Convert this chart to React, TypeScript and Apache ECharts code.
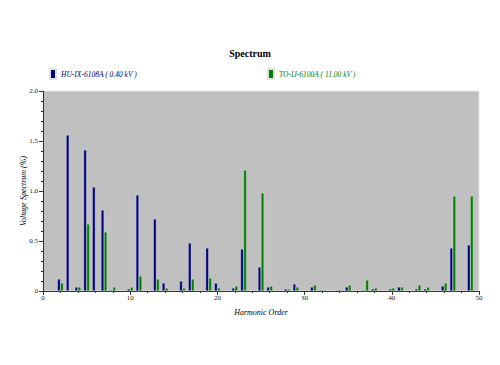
import React, { useEffect, useRef } from "react";
import * as echarts from "echarts";

const harmonics = [2,3,4,5,6,7,8,9,10,11,12,13,14,15,16,17,18,19,20,21,22,23,24,25,26,27,28,29,30,31,32,33,34,35,36,37,38,39,40,41,42,43,44,45,46,47,48,49];
const huValues = [0.12,1.56,0.04,1.41,1.04,0.81,0.01,null,0.02,0.96,null,0.72,0.08,null,0.10,0.48,null,0.43,0.08,null,0.03,0.42,null,0.24,0.04,null,0.02,0.07,null,0.04,0.01,null,0.01,0.04,null,0.01,0.02,null,0.02,0.04,null,0.02,0.02,null,0.05,0.43,null,0.46];
const toValues = [0.08,null,0.04,0.67,null,0.59,0.04,null,0.04,0.15,null,0.12,0.03,null,0.03,0.12,null,0.13,0.03,null,0.05,1.21,null,0.98,0.05,null,0.02,0.04,null,0.06,0.01,null,0.01,0.06,null,0.11,0.03,null,0.03,0.04,null,0.06,0.04,null,0.08,0.95,null,0.95];
const seriesNames = ["HU-IX-6108A ( 0.40 kV )", "TO-IJ-6100A ( 11.00 kV )"];
const seriesColors = ["#000080", "#008000"];

const FONT = "Liberation Serif";

export default function App() {
  const ref = useRef<HTMLDivElement>(null);
  useEffect(() => {
    if (!ref.current) return;
    const chart = echarts.init(ref.current, null, { renderer: "svg" });
    const toPairs = (vals: (number | null)[]) =>
      harmonics.map((h, i) => [h, vals[i]]);
    chart.setOption({
      animation: false,
      backgroundColor: "#ffffff",
      title: {
        text: "Spectrum",
        left: "center",
        top: 43,
        textStyle: { fontFamily: FONT, fontSize: 10, fontWeight: "bold", color: "#000" },
      },
      legend: [
        {
          data: [{ name: seriesNames[0], textStyle: { color: seriesColors[0] } }],
          left: 44,
          top: 63,
          icon: "rect",
          itemWidth: 6,
          itemHeight: 10,
          itemGap: 4,
          textStyle: { fontFamily: FONT, fontSize: 7.5, fontStyle: "italic" },
        },
        {
          data: [{ name: seriesNames[1], textStyle: { color: seriesColors[1] } }],
          left: 262,
          top: 63,
          icon: "rect",
          itemWidth: 6,
          itemHeight: 10,
          itemGap: 4,
          textStyle: { fontFamily: FONT, fontSize: 7.5, fontStyle: "italic" },
        },
      ],
      grid: {
        left: 43,
        right: 21,
        top: 91,
        bottom: 74,
        show: true,
        backgroundColor: "#c0c0c0",
        borderColor: "#e6e6e6",
        borderWidth: 1,
      },
      xAxis: {
        type: "value",
        min: 0,
        max: 50,
        interval: 10,
        name: "Harmonic Order",
        nameLocation: "middle",
        nameGap: 17,
        nameMoveOverlap: false,
        nameTextStyle: { fontFamily: FONT, fontSize: 8, fontStyle: "italic", color: "#000" },
        axisLine: { show: true, lineStyle: { color: "#333", width: 1 } },
        axisTick: { show: true, length: 4, lineStyle: { color: "#333" } },
        minorTick: { show: true, splitNumber: 5, length: 2, lineStyle: { color: "#333" } },
        axisLabel: { fontFamily: FONT, fontSize: 7, color: "#222", margin: 3 },
        splitLine: { show: false },
      },
      yAxis: {
        type: "value",
        min: 0,
        max: 2,
        interval: 0.5,
        name: "Voltage Spectrum (%)",
        nameLocation: "middle",
        nameGap: 16,
        nameMoveOverlap: false,
        nameTextStyle: { fontFamily: FONT, fontSize: 8, fontStyle: "italic", color: "#000" },
        axisLine: { show: true, lineStyle: { color: "#333", width: 1 } },
        axisTick: { show: true, length: 4, lineStyle: { color: "#333" } },
        minorTick: { show: true, splitNumber: 5, length: 2, lineStyle: { color: "#333" } },
        axisLabel: {
          fontFamily: FONT,
          fontSize: 7,
          color: "#222",
          margin: 5,
          formatter: (v: number) => (v === 0 ? "0" : v.toFixed(1)),
        },
        splitLine: { show: false },
      },
      series: [
        {
          name: seriesNames[0],
          type: "bar",
          data: toPairs(huValues),
          barWidth: 3,
          barGap: "0%",
          itemStyle: { color: seriesColors[0], borderColor: "#e0e0e0", borderWidth: 0.4 },
        },
        {
          name: seriesNames[1],
          type: "bar",
          data: toPairs(toValues),
          barWidth: 3,
          barGap: "0%",
          itemStyle: { color: seriesColors[1], borderColor: "#e0e0e0", borderWidth: 0.4 },
        },
      ],
    });
    return () => chart.dispose();
  }, []);
  return <div ref={ref} style={{ width: 500, height: 365, margin: -8 }} />;
}
